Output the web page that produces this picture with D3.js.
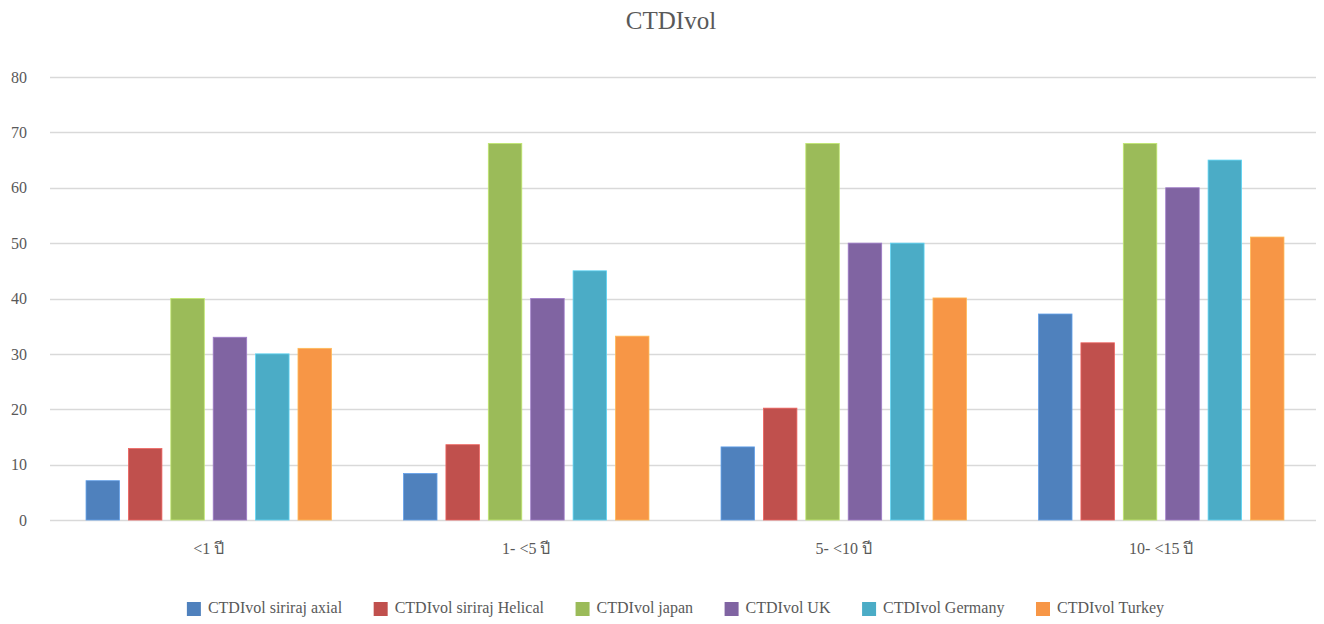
<!DOCTYPE html>
<html>
<head>
<meta charset="utf-8">
<script src="https://cdn.jsdelivr.net/npm/d3@7"></script>
<style>
  html, body { margin: 0; padding: 0; background: #fff; }
  svg { display: block; }
  text { font-family: "Liberation Serif", "Times New Roman", serif; fill: #595959; }
</style>
</head>
<body>
<svg id="chart" width="1324" height="624"></svg>
<script>
// Age groups (x axis)
const categories = ["<1 ปี", "1- <5 ปี", "5- <10 ปี", "10- <15 ปี"];

// Series names, one bar per series in every age group
const seriesNames = [
  "CTDIvol siriraj axial",
  "CTDIvol siriraj Helical",
  "CTDIvol japan",
  "CTDIvol UK",
  "CTDIvol Germany",
  "CTDIvol Turkey"
];

// CTDIvol values per series, in category order
const sirirajAxial   = [7.1, 8.4, 13.2, 37.2];
const sirirajHelical = [12.9, 13.6, 20.2, 32.0];
const japan          = [40, 68, 68, 68];
const uk             = [33, 40, 50, 60];
const germany        = [30, 45, 50, 65];
const turkey         = [31, 33.2, 40.1, 51.1];

const seriesValues = [sirirajAxial, sirirajHelical, japan, uk, germany, turkey];
const seriesColors = ["#4F81BD", "#C0504D", "#9BBB59", "#8064A2", "#4BACC6", "#F79646"];

// Y axis ticks
const yTicks = [0, 10, 20, 30, 40, 50, 60, 70, 80];

const svg = d3.select("#chart");
const plot = { left: 50, right: 1316, top: 77, bottom: 520 };

const y = d3.scaleLinear().domain([0, 80]).range([plot.bottom, plot.top]);
const x0 = d3.scaleBand().domain(categories).range([plot.left, plot.left + 4 * 317.5]).padding(0);
const x1 = d3.scaleBand().domain(d3.range(seriesNames.length))
  .range([0, x0.bandwidth()]).paddingInner(0.21).paddingOuter(0.85);

const serif = "'Liberation Serif', 'Times New Roman', serif";

// Title
svg.append("text")
  .attr("x", 671).attr("y", 29)
  .attr("text-anchor", "middle")
  .style("font-size", "25px")
  .text("CTDIvol");

// Gridlines
svg.append("g")
  .selectAll("line")
  .data(yTicks)
  .join("line")
  .attr("x1", plot.left).attr("x2", plot.right)
  .attr("y1", d => Math.round(y(d)) + 0.5).attr("y2", d => Math.round(y(d)) + 0.5)
  .attr("stroke", "#d9d9d9").attr("stroke-width", 1.3);

// Y axis labels
const yAxis = d3.axisLeft(y).tickValues(yTicks).tickSize(0).tickPadding(0);
const yg = svg.append("g").attr("transform", "translate(27,0)").call(yAxis);
yg.select(".domain").remove();
yg.selectAll("text")
  .style("font-size", "16px")
  .style("font-family", serif)
  .attr("fill", "#595959");

// Bars
const groups = svg.append("g")
  .selectAll("g")
  .data(categories)
  .join("g")
  .attr("transform", c => `translate(${x0(c)},0)`);

groups.selectAll("rect")
  .data((c, ci) => seriesValues.map((vals, si) => ({ si, v: vals[ci] })))
  .join("rect")
  .attr("x", d => x1(d.si))
  .attr("width", x1.bandwidth())
  .attr("y", d => y(d.v))
  .attr("height", d => y(0) - y(d.v))
  .attr("fill", d => seriesColors[d.si])
  .attr("stroke", d => d3.color(seriesColors[d.si]).brighter(0.6))
  .attr("stroke-width", 0.8);

// Category labels
const xAxis = d3.axisBottom(x0).tickSize(0).tickPadding(0);
const xg = svg.append("g").attr("transform", "translate(0,543)").call(xAxis);
xg.select(".domain").remove();
xg.selectAll("text")
  .style("font-size", "16px")
  .style("font-family", serif)
  .attr("fill", "#595959");

// Legend
const legend = svg.append("g");
const items = legend.selectAll("g")
  .data(seriesNames)
  .join("g");
items.append("rect")
  .attr("width", 14).attr("height", 14)
  .attr("y", -11)
  .attr("fill", (d, i) => seriesColors[i]);
items.append("text")
  .attr("x", 21).attr("y", 0)
  .style("font-size", "16px")
  .text(d => d);

let cursor = 0;
const gap = 31.6;
items.each(function () {
  const g = d3.select(this);
  const w = 21 + g.select("text").node().getComputedTextLength();
  g.attr("transform", `translate(${cursor},0)`);
  cursor += w + gap;
});
const totalW = cursor - gap;
legend.attr("transform", `translate(${675.5 - totalW / 2},613)`);
</script>
</body>
</html>
